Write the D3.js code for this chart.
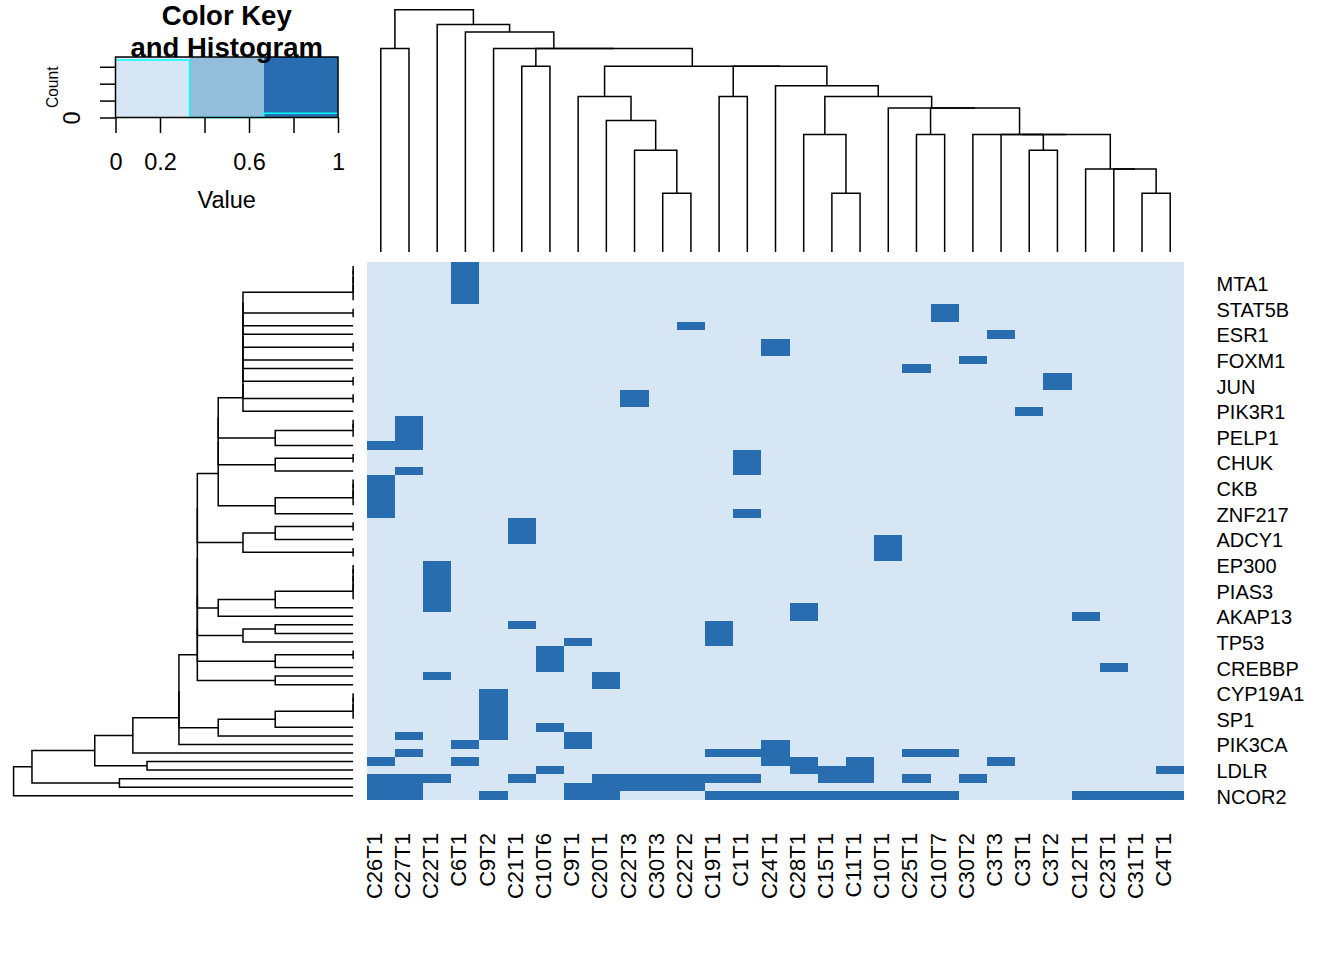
<!DOCTYPE html>
<html><head><meta charset="utf-8">
<script src="https://cdn.jsdelivr.net/npm/d3@7"></script>
<style>
body{margin:0;background:#fff}
svg{display:block}
text{font-family:"Liberation Sans",Arial,Helvetica,sans-serif;fill:#000}
</style>
</head><body>
<svg id="chart" width="1344" height="960"></svg>
<script>
// ---------------- DATA ----------------
const colLabels = ["C26T1","C27T1","C22T1","C6T1","C9T2","C21T1","C10T6","C9T1","C20T1","C22T3",
  "C30T3","C22T2","C19T1","C1T1","C24T1","C28T1","C15T1","C11T1","C10T1","C25T1",
  "C10T7","C30T2","C3T3","C3T1","C3T2","C12T1","C23T1","C31T1","C4T1"];

// 63 rows, top to bottom; only every third label is legible in the picture (null = not shown)
const rowLabels = [
  null,null,"MTA1", null,null,"STAT5B", null,null,"ESR1", null,null,"FOXM1",
  null,null,"JUN", null,null,"PIK3R1", null,null,"PELP1", null,null,"CHUK",
  null,null,"CKB", null,null,"ZNF217", null,null,"ADCY1", null,null,"EP300",
  null,null,"PIAS3", null,null,"AKAP13", null,null,"TP53", null,null,"CREBBP",
  null,null,"CYP19A1", null,null,"SP1", null,null,"PIK3CA", null,null,"LDLR",
  null,null,"NCOR2"];

// column indices whose value is 1 for each row (all other cells are 0)
const highCells = [
  [3],[3],[3],[3],[3],
  [20],[20],
  [11],
  [22],
  [14],[14],
  [21],
  [19],
  [24],[24],
  [9],[9],
  [23],
  [1],[1],[1],
  [0,1],
  [13],[13],
  [1,13],
  [0],[0],[0],[0],
  [0,13],
  [5],[5],
  [5,18],
  [18],[18],
  [2],[2],[2],[2],[2],
  [2,15],
  [15,25],
  [5,12],
  [12],
  [7,12],
  [6],[6],
  [6,26],
  [2,8],
  [8],
  [4],[4],[4],[4],
  [4,6],
  [1,4,7],
  [3,7,14],
  [1,12,13,14,19,20],
  [0,3,14,15,17,22],
  [6,15,16,17,28],
  [0,1,2,5,8,9,10,11,12,13,16,17,19,21],
  [0,1,7,8,9,10,11],
  [0,1,4,7,8,12,13,14,15,16,17,18,19,20,25,26,27,28]
];

// hclust-style merges: [a, b, height]; negative = leaf (-1 is first displayed leaf), positive = earlier merge (1-based)
const colMerges = [
  [-11,-12,1],[-17,-18,1],[-28,-29,1],
  [-27,3,1.414],[-26,4,1.414],
  [-10,1,1.732],[-24,-25,1.732],
  [-16,2,2],[-20,-21,2],[-23,7,2],[10,5,2],[-22,11,2],
  [-9,6,2.236],
  [9,12,2.449],[-19,14,2.449],
  [-8,13,2.646],[-13,-14,2.646],[8,15,2.646],
  [-15,18,2.828],
  [17,19,3.162],[16,20,3.162],[-6,-7,3.162],
  [22,21,3.464],[-5,23,3.464],[-1,-2,3.464],
  [-4,24,3.742],
  [-3,26,3.873],
  [25,27,4.123]
];

const rowMerges = [
  [-1,-2,0],[1,-3,0],[2,-4,0],[3,-5,0],          // 1-4
  [-6,-7,0],[-10,-11,0],[-14,-15,0],[-16,-17,0],  // 5-8
  [4,5,1.414],[9,-8,1.414],[10,-9,1.414],[11,6,1.414],[12,-12,1.414],
  [13,-13,1.414],[14,7,1.414],[15,8,1.414],[16,-18,1.414],  // 9-17
  [-19,-20,0],[18,-21,0],[19,-22,1],               // 18-20
  [-23,-24,0],[21,-25,1],                          // 21-22
  [-26,-27,0],[23,-28,0],[24,-29,0],[25,-30,1],    // 23-26
  [17,20,1.732],[27,22,1.732],[28,26,1.732],       // 27-29
  [-31,-32,0],[30,-33,1],[-34,-35,0],[31,32,1.414],// 30-33
  [-36,-37,0],[34,-38,0],[35,-39,0],[36,-40,0],[37,-41,1],[38,-42,1.732], // 34-39
  [-43,-44,1],[40,-45,1.414],                      // 40-41
  [-46,-47,0],[42,-48,1],                          // 42-43
  [-49,-50,1],                                     // 44
  [29,33,2],[45,39,2],[46,41,2],[47,43,2],[48,44,2], // 45-49
  [-51,-52,0],[50,-53,0],[51,-54,0],[52,-55,1],[53,-56,1.732], // 50-54
  [49,54,2.236],[55,-57,2.236],                    // 55-56
  [56,-58,2.828],                                  // 57
  [-59,-60,2.646],[57,58,3.317],                   // 58-59
  [-61,-62,3],[59,60,4.123],[61,-63,4.359]         // 60-62
];

const keyBreaks = [0, 0.3333, 0.6667, 1];
const keyColors = ["#D6E6F4", "#92BEDB", "#276DB0"];
const keyTicks = [0, 0.2, 0.4, 0.6, 0.8, 1];
const keyTickLabels = ["0", "0.2", "", "0.6", "", "1"];
const countTicks = [0, 500, 1000, 1500];
const countTickLabels = ["0", "", "", ""];

// ---------------- LAYOUT ----------------
const W = 1344, H = 960;
const svg = d3.select("#chart");
svg.append("rect").attr("width", W).attr("height", H).attr("fill", "#fff");

const heat = {x0: 366.7, x1: 1184.3, y0: 261.7, y1: 800};
const x = d3.scaleBand().domain(d3.range(colLabels.length)).range([heat.x0, heat.x1]);
const y = d3.scaleBand().domain(d3.range(rowLabels.length)).range([heat.y0, heat.y1]);
const color = d3.scaleThreshold().domain(keyBreaks.slice(1, -1)).range(keyColors);

const values = highCells.map(ones => colLabels.map((_, c) => ones.includes(c) ? 1 : 0));

// heatmap cells
svg.append("g").attr("shape-rendering", "crispEdges")
  .selectAll("rect")
  .data(values.flatMap((row, r) => row.map((v, c) => ({r, c, v}))))
  .join("rect")
  .attr("x", d => x(d.c)).attr("y", d => y(d.r))
  .attr("width", x.bandwidth()).attr("height", y.bandwidth())
  .attr("fill", d => color(d.v));

// dendrogram layout (R plot.dendrogram style: node at midpoint of its two children)
function dendro(merges, leafPos) {
  const nodes = [];
  const ref = k => k < 0 ? {p: leafPos(-k - 1), h: 0} : nodes[k - 1];
  return merges.map(([a, b, h]) => {
    const A = ref(a), B = ref(b);
    nodes.push({p: (A.p + B.p) / 2, h});
    return {A, B, h};
  });
}

// column dendrogram (top)
const colMax = d3.max(colMerges, m => m[2]);
const colH = d3.scaleLinear().domain([-0.04 * colMax, 1.04 * colMax]).range([heat.y0, 0]);
const colSegs = dendro(colMerges, i => x(i) + x.bandwidth() / 2);
svg.append("g").attr("fill", "none").attr("stroke", "#000").attr("stroke-width", 1.5)
  .selectAll("path").data(colSegs).join("path")
  .attr("d", s => `M${s.A.p},${colH(s.A.h)}V${colH(s.h)}H${s.B.p}V${colH(s.B.h)}`);

// row dendrogram (left)
const rowMax = d3.max(rowMerges, m => m[2]);
const rowH = d3.scaleLinear().domain([1.04 * rowMax, -0.04 * rowMax]).range([0, heat.x0]);
const rowSegs = dendro(rowMerges, i => y(i) + y.bandwidth() / 2);
svg.append("g").attr("fill", "none").attr("stroke", "#000").attr("stroke-width", 1.5)
  .selectAll("path").data(rowSegs).join("path")
  .attr("d", s => `M${rowH(s.A.h)},${s.A.p}H${rowH(s.h)}V${s.B.p}H${rowH(s.B.h)}`);

// column labels
svg.append("g").selectAll("text").data(colLabels).join("text")
  .attr("transform", (d, i) => `translate(${x(i) + x.bandwidth() / 2 + 1},833) rotate(-90)`)
  .attr("text-anchor", "end").attr("font-size", 22)
  .text(d => d);

// row labels
svg.append("g").selectAll("text")
  .data(rowLabels.map((l, i) => ({l, i})).filter(d => d.l !== null))
  .join("text")
  .attr("x", 1216.5).attr("y", d => y(d.i) + y.bandwidth() / 2).attr("dy", "0.4em")
  .attr("font-size", 20)
  .text(d => d.l);

// ---------------- COLOR KEY ----------------
const kx = d3.scaleLinear().domain([0, 1]).range([115.5, 338]);
const ky = d3.scaleLinear().domain([0, 1]).range([117.5, 57]);
const key = svg.append("g");

key.append("g").attr("shape-rendering", "crispEdges").selectAll("rect").data(keyColors).join("rect")
  .attr("x", (d, i) => kx(keyBreaks[i])).attr("width", (d, i) => kx(keyBreaks[i + 1]) - kx(keyBreaks[i]))
  .attr("y", ky(1)).attr("height", ky(0) - ky(1)).attr("fill", d => d);

// histogram of values
const flat = values.flat();
const counts = keyColors.map((_, i) => flat.filter(v =>
  (i === 0 ? v >= keyBreaks[0] : v > keyBreaks[i]) && v <= keyBreaks[i + 1]).length);
const maxC = d3.max(counts);
const hy = counts.map(c => c / maxC * 0.95);
const histPts = keyBreaks.map((b, i) => [b, hy[Math.min(i, hy.length - 1)]]);
key.append("path")
  .attr("d", d3.line().x(d => kx(d[0])).y(d => ky(d[1])).curve(d3.curveStepAfter)(histPts))
  .attr("fill", "none").attr("stroke", "#00FFFF").attr("stroke-width", 1.5);

key.append("rect").attr("x", kx(0)).attr("y", ky(1)).attr("width", kx(1) - kx(0)).attr("height", ky(0) - ky(1))
  .attr("fill", "none").attr("stroke", "#000").attr("stroke-width", 1.5);

// x axis
const xa = key.append("g").attr("transform", `translate(0,${ky(0)})`)
  .call(d3.axisBottom(kx).tickValues(keyTicks).tickSize(15.5).tickFormat((d, i) => keyTickLabels[i]));
xa.select(".domain").remove();
xa.selectAll("line").attr("stroke", "#000").attr("stroke-width", 1.5);
xa.selectAll("text").attr("y", 52.5).attr("dy", 0).attr("font-size", 23.5)
  .attr("font-family", "Liberation Sans, Arial, sans-serif").attr("fill", "#000");

// y (count) axis
const cy = d3.scaleLinear().domain([0, maxC / 0.95]).range([ky(0), ky(1)]);
const ya = key.append("g").attr("transform", `translate(${kx(0)},0)`)
  .call(d3.axisLeft(cy).tickValues(countTicks).tickSize(15.5).tickFormat((d, i) => countTickLabels[i]));
ya.select(".domain").remove();
ya.selectAll("line").attr("stroke", "#000").attr("stroke-width", 1.5);
ya.selectAll("text").attr("x", 0).attr("dy", 0).attr("text-anchor", "middle")
  .attr("transform", "translate(-35.5,0) rotate(-90)").attr("font-size", 23.5)
  .attr("font-family", "Liberation Sans, Arial, sans-serif").attr("fill", "#000");

key.append("text").attr("transform", `translate(58,${(ky(0) + ky(1)) / 2}) rotate(-90)`)
  .attr("text-anchor", "middle").attr("font-size", 15.6).text("Count");
key.append("text").attr("x", (kx(0) + kx(1)) / 2).attr("y", 208).attr("text-anchor", "middle")
  .attr("font-size", 23.5).text("Value");
key.append("text").attr("x", (kx(0) + kx(1)) / 2).attr("y", 25).attr("text-anchor", "middle")
  .attr("font-size", 27.5).attr("font-weight", "bold").text("Color Key");
key.append("text").attr("x", (kx(0) + kx(1)) / 2).attr("y", 56.5).attr("text-anchor", "middle")
  .attr("font-size", 27.5).attr("font-weight", "bold").text("and Histogram");
</script>
</body></html>
